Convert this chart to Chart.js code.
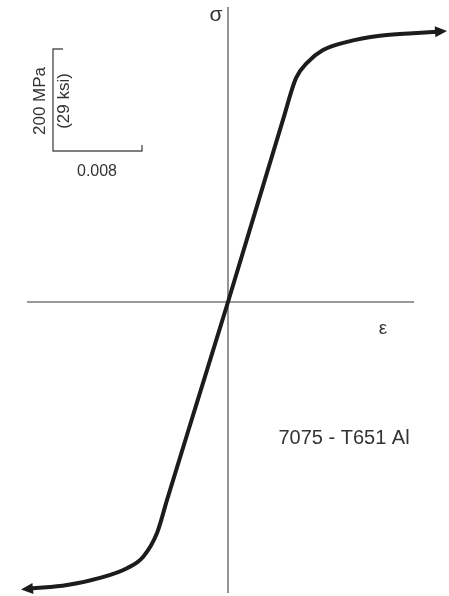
<!DOCTYPE html>
<html>
<head>
<meta charset="utf-8">
<script src="https://cdn.jsdelivr.net/npm/chart.js@4"></script>
<style>
html,body{margin:0;padding:0;background:#fff;}
#wrap{width:449px;height:596px;position:relative;}
</style>
</head>
<body>
<div id="wrap"><canvas id="c" width="449" height="596"></canvas></div>
<script>
// Strain (dimensionless) and stress (MPa)
const strain = [-0.01771, -0.01447, -0.01151, -0.00908, -0.00764, -0.00638, -0.00548, -0.003, 0, 0.003, 0.00494, 0.00611, 0.00710, 0.00854, 0.01070, 0.01366, 0.01663, 0.01879];
const stress = [-562, -555, -541, -522, -500, -453, -388, -212, 0, 217, 357, 439, 469, 494, 510, 522, 527, 530];
// Scale bar values
const scaleStress = [200];
const scaleStrain = [0.008];
const scaleLabels = ["200 MPa", "(29 ksi)", "0.008"];
const axisLabels = ["σ", "ε"];
const materialLabel = "7075 - T651 Al";

const points = strain.map((x, i) => ({x: x, y: stress[i]}));
const FONT = '"Liberation Sans", Arial, Helvetica, sans-serif';

function arrow(ctx, from, to, len, half) {
  const dx = to.x - from.x, dy = to.y - from.y;
  const d = Math.hypot(dx, dy) || 1;
  const ux = dx / d, uy = dy / d;
  const tip = {x: to.x + ux * len, y: to.y + uy * len};
  const bx = to.x - ux * 2, by = to.y - uy * 2;
  ctx.beginPath();
  ctx.moveTo(tip.x, tip.y);
  ctx.lineTo(bx - uy * half, by + ux * half);
  ctx.lineTo(bx + uy * half, by - ux * half);
  ctx.closePath();
  ctx.fill();
}

const decor = {
  id: 'decor',
  beforeDatasetsDraw(chart) {
    const ctx = chart.ctx;
    const xs = chart.scales.x, ys = chart.scales.y;
    const x0 = xs.getPixelForValue(0), y0 = ys.getPixelForValue(0);
    ctx.save();
    // axes
    ctx.strokeStyle = '#7a7a7a';
    ctx.lineWidth = 1.6;
    ctx.beginPath();
    ctx.moveTo(x0, 7); ctx.lineTo(x0, 593);
    ctx.moveTo(27, y0); ctx.lineTo(414, y0);
    ctx.stroke();
    // scale bar
    const lenY = ys.getPixelForValue(0) - ys.getPixelForValue(scaleStress[0]);
    const lenX = xs.getPixelForValue(scaleStrain[0]) - xs.getPixelForValue(0);
    const cx = 53, cy = 151;
    ctx.strokeStyle = '#555';
    ctx.lineWidth = 1.4;
    ctx.beginPath();
    ctx.moveTo(cx + 10, cy - lenY);
    ctx.lineTo(cx, cy - lenY);
    ctx.lineTo(cx, cy);
    ctx.lineTo(cx + lenX, cy);
    ctx.lineTo(cx + lenX, cy - 6);
    ctx.stroke();
    // texts
    ctx.fillStyle = '#333';
    ctx.textAlign = 'center';
    ctx.textBaseline = 'middle';
    ctx.save();
    ctx.translate(40, 101);
    ctx.rotate(-Math.PI / 2);
    ctx.font = '17px ' + FONT;
    ctx.fillText(scaleLabels[0], 0, 0);
    ctx.restore();
    ctx.save();
    ctx.translate(64, 101);
    ctx.rotate(-Math.PI / 2);
    ctx.font = '17px ' + FONT;
    ctx.fillText(scaleLabels[1], 0, 0);
    ctx.restore();
    ctx.font = '16px ' + FONT;
    ctx.fillText(scaleLabels[2], 97, 172);
    ctx.font = '21px ' + FONT;
    ctx.fillText(axisLabels[0], 216, 15);
    ctx.font = '19px ' + FONT;
    ctx.fillText(axisLabels[1], 383, 329);
    ctx.font = '20px ' + FONT;
    ctx.fillText(materialLabel, 344, 438);
    ctx.restore();
  },
  afterDatasetsDraw(chart) {
    const ctx = chart.ctx;
    const els = chart.getDatasetMeta(0).data;
    const n = els.length;
    ctx.save();
    ctx.fillStyle = '#1c1c1c';
    arrow(ctx, {x: els[n - 2].x, y: els[n - 2].y}, {x: els[n - 1].x, y: els[n - 1].y}, 10, 5.5);
    arrow(ctx, {x: els[1].x, y: els[1].y}, {x: els[0].x, y: els[0].y}, 10, 5.5);
    ctx.restore();
  }
};

new Chart(document.getElementById('c'), {
  type: 'line',
  data: {
    datasets: [{
      data: points,
      borderColor: '#1c1c1c',
      borderWidth: 4,
      pointRadius: 0,
      fill: false,
      cubicInterpolationMode: 'monotone',
      borderCapStyle: 'round'
    }]
  },
  options: {
    responsive: false,
    animation: false,
    layout: {padding: 0},
    plugins: {legend: {display: false}, tooltip: {enabled: false}},
    scales: {
      x: {type: 'linear', display: false, min: -228 / 11125, max: 221 / 11125},
      y: {type: 'linear', display: false, min: -294 / 0.51, max: 302 / 0.51}
    }
  },
  plugins: [decor]
});
</script>
</body>
</html>
